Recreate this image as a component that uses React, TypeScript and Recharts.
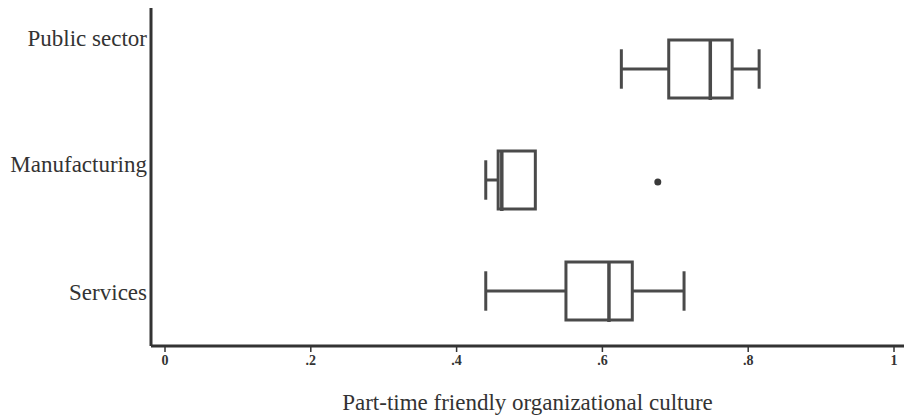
import React from 'react';
import { ComposedChart, Bar, XAxis, YAxis } from 'recharts';

const categories = ['Public sector', 'Manufacturing', 'Services'];
const whiskerLow = [0.626, 0.44, 0.44];
const quartile1 = [0.691, 0.457, 0.55];
const medians = [0.748, 0.462, 0.609];
const quartile3 = [0.778, 0.508, 0.641];
const whiskerHigh = [0.815, 0.508, 0.712];
const outliers: number[][] = [[], [0.676], []];
const xTicks = [0, 0.2, 0.4, 0.6, 0.8, 1];
const xTickLabels = ['0', '.2', '.4', '.6', '.8', '1'];
const xTitle = 'Part-time friendly organizational culture';

const data = categories.map((name, i) => ({
  name,
  lo: whiskerLow[i],
  q1: quartile1[i],
  med: medians[i],
  q3: quartile3[i],
  hi: whiskerHigh[i],
  out: outliers[i],
  range: [whiskerLow[i], whiskerHigh[i]],
}));

const INK = '#4a4a4a';
const AXIS = '#333333';
const FONT = '"Liberation Serif", "Times New Roman", serif';

const BoxShape = (props: any) => {
  const { x, y, width, height, index } = props;
  const p = props.payload && props.payload.lo !== undefined ? props.payload : data[index];
  const k = width / (p.hi - p.lo);
  const sx = (v: number) => x + (v - p.lo) * k;
  const cy = y + height / 2;
  const capH = height * 0.68;
  const sw = 3;
  return (
    <g>
      {p.q1 > p.lo && (
        <>
          <line x1={sx(p.lo)} x2={sx(p.q1)} y1={cy} y2={cy} stroke={INK} strokeWidth={sw} />
          <line x1={sx(p.lo)} x2={sx(p.lo)} y1={cy - capH / 2} y2={cy + capH / 2} stroke={INK} strokeWidth={sw} />
        </>
      )}
      {p.hi > p.q3 && (
        <>
          <line x1={sx(p.q3)} x2={sx(p.hi)} y1={cy} y2={cy} stroke={INK} strokeWidth={sw} />
          <line x1={sx(p.hi)} x2={sx(p.hi)} y1={cy - capH / 2} y2={cy + capH / 2} stroke={INK} strokeWidth={sw} />
        </>
      )}
      <rect x={sx(p.q1)} y={y} width={sx(p.q3) - sx(p.q1)} height={height} fill="none" stroke={INK} strokeWidth={sw} />
      <line x1={sx(p.med)} x2={sx(p.med)} y1={y} y2={y + height + 2} stroke={INK} strokeWidth={3.5} />
      {p.out.map((o: number, j: number) => (
        <circle key={j} cx={sx(o)} cy={cy + 2} r={3.5} fill="#3a3a3a" />
      ))}
    </g>
  );
};

const labelShift = [-30, -15, 2];

const YTick = (props: any) => {
  const { x, y, payload, index } = props;
  return (
    <text x={x} y={y + (labelShift[index] || 0)} textAnchor="end" dominantBaseline="central" fontFamily={FONT} fontSize={23} fill="#333">
      {payload.value}
    </text>
  );
};

const XTick = (props: any) => {
  const { x, y, payload } = props;
  const i = xTicks.indexOf(payload.value);
  return (
    <text x={x} y={y + 11} textAnchor="middle" fontFamily={FONT} fontSize={14} fontWeight="bold" fill="#333">
      {i >= 0 ? xTickLabels[i] : ''}
    </text>
  );
};

export default function App() {
  return (
    <div style={{ position: 'absolute', left: 0, top: 0, background: '#fff' }}>
      <ComposedChart
        width={904}
        height={418}
        data={data}
        layout="vertical"
        margin={{ top: 8, right: 0, bottom: 0, left: 0 }}
      >
        <XAxis
          type="number"
          domain={[0, 1]}
          ticks={xTicks}
          padding={{ left: 14, right: 10 }}
          height={72}
          tickSize={6}
          tickLine={{ stroke: AXIS, strokeWidth: 1.5 }}
          axisLine={{ stroke: AXIS, strokeWidth: 3 }}
          tick={<XTick />}
          label={{ value: xTitle, position: 'insideBottom', offset: 8, fontFamily: FONT, fontSize: 23, fill: '#333' }}
          allowDataOverflow
        />
        <YAxis
          type="category"
          dataKey="name"
          width={151}
          padding={{ top: 5, bottom: 0 }}
          tickLine={false}
          tickSize={0}
          tickMargin={4}
          axisLine={{ stroke: AXIS, strokeWidth: 3 }}
          tick={<YTick />}
        />
        <Bar dataKey="range" barSize={58} shape={<BoxShape />} isAnimationActive={false} />
      </ComposedChart>
    </div>
  );
}
